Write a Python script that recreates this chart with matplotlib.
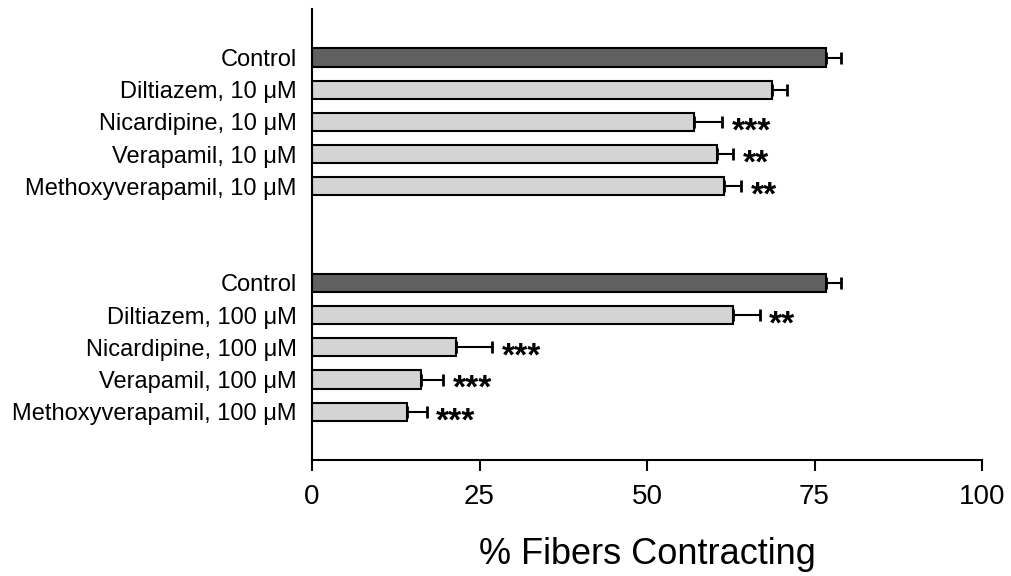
import matplotlib
matplotlib.use("Agg")
import matplotlib.pyplot as plt
import numpy as np

plt.rcParams["font.family"] = ["Liberation Sans", "DejaVu Sans"]

# two dose groups, control first in each
labels_10 = [
    "Control",
    "Diltiazem, 10 μM",
    "Nicardipine, 10 μM",
    "Verapamil, 10 μM",
    "Methoxyverapamil, 10 μM",
]
labels_100 = [
    "Control",
    "Diltiazem, 100 μM",
    "Nicardipine, 100 μM",
    "Verapamil, 100 μM",
    "Methoxyverapamil, 100 μM",
]
values_10 = [76.7, 68.6, 57.0, 60.4, 61.5]
errors_10 = [2.2, 2.3, 4.2, 2.5, 2.6]
stars_10 = ["", "", "***", "**", "**"]

values_100 = [76.7, 62.9, 21.5, 16.3, 14.2]
errors_100 = [2.2, 3.9, 5.4, 3.2, 2.9]
stars_100 = ["", "**", "***", "***", "***"]

xticks = [0, 25, 50, 75, 100]

labels = labels_10 + labels_100
values = np.array(values_10 + values_100)
errors = np.array(errors_10 + errors_100)
stars = stars_10 + stars_100
positions = np.r_[np.arange(5), np.arange(7, 12)]
colors = ["#606060" if lab == "Control" else "#d4d4d4" for lab in labels]

fig = plt.figure(figsize=(10.11, 5.76), dpi=100)
ax = fig.add_axes([312 / 1011, 1 - 460 / 576, 670 / 1011, 450.8 / 576])

ax.barh(
    positions,
    values,
    height=0.56,
    color=colors,
    edgecolor="black",
    linewidth=1.5,
    xerr=[np.zeros_like(errors), errors],
    error_kw=dict(ecolor="black", elinewidth=1.5, capsize=4, capthick=2),
)

for y, v, e, s in zip(positions, values, errors, stars):
    if s:
        ax.annotate(
            s,
            xy=(v + e, y),
            xytext=(7, 4),
            textcoords="offset points",
            ha="left",
            va="top",
            fontsize=24,
            fontweight="bold",
        )

ax.set_xlim(0, 100)
ax.set_ylim(12.5, -1.5)
ax.set_xticks(xticks)
ax.set_yticks(positions)
ax.set_yticklabels(labels, fontsize=17)
ax.tick_params(axis="y", length=0, pad=11)
ax.tick_params(axis="x", length=8, width=1.5, pad=9, labelsize=20)
for side in ("top", "right"):
    ax.spines[side].set_visible(False)
for side in ("left", "bottom"):
    ax.spines[side].set_linewidth(1.5)

ax.set_xlabel("% Fibers Contracting", fontsize=26, labelpad=20)

fig.savefig("out.png", dpi=100)
